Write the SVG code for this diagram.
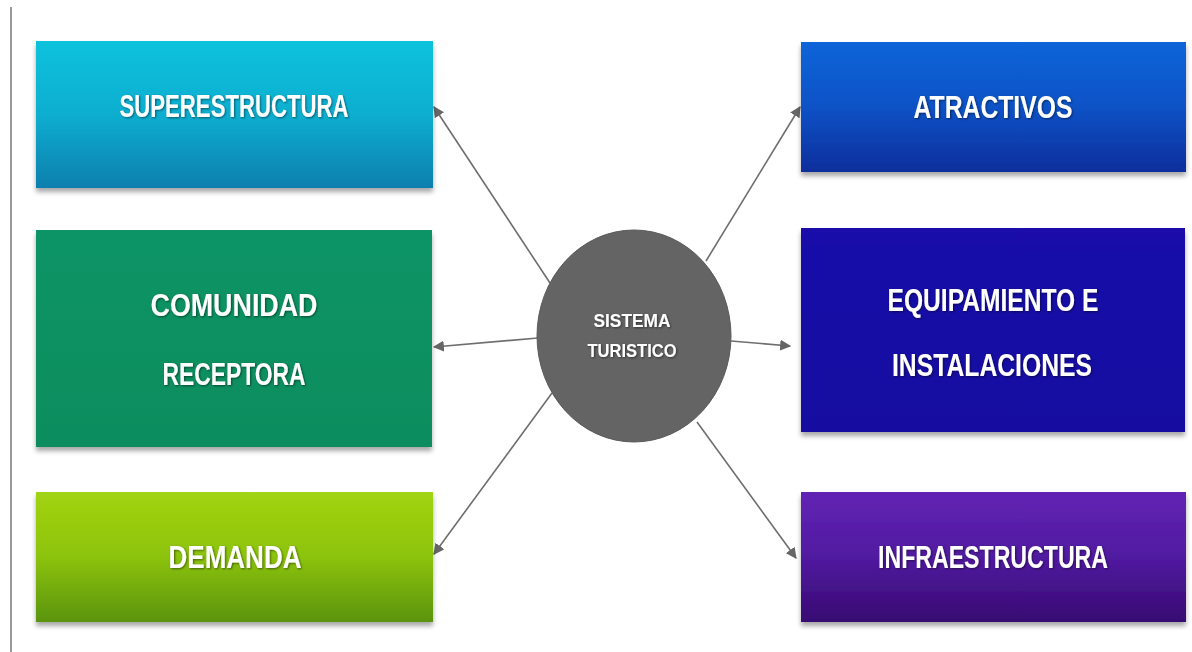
<svg xmlns="http://www.w3.org/2000/svg" width="1192" height="652" viewBox="0 0 1192 652">
<defs>
<style>
.lbl{font-family:"Liberation Sans",Arial,sans-serif;font-weight:bold;font-size:31px;fill:#ffffff;text-anchor:middle}
.clbl{font-family:"Liberation Sans",Arial,sans-serif;font-weight:bold;font-size:19px;fill:#ffffff;text-anchor:middle}
.con{stroke:#6e6e6e;stroke-width:1.6;fill:none;marker-end:url(#ah)}
.box{filter:url(#sh)}
</style>
<marker id="ah" viewBox="0 0 10 10" refX="9" refY="5" markerWidth="11" markerHeight="11" markerUnits="userSpaceOnUse" orient="auto">
<path d="M0,0 L10,5 L0,10 z" fill="#666666"/>
</marker>
<filter id="sh" x="-5%" y="-5%" width="110%" height="120%">
<feGaussianBlur in="SourceAlpha" stdDeviation="2.5"/>
<feOffset dx="0" dy="4" result="b"/>
<feComponentTransfer><feFuncA type="linear" slope="0.35"/></feComponentTransfer>
<feMerge><feMergeNode/><feMergeNode in="SourceGraphic"/></feMerge>
</filter>
<filter id="ts" x="-5%" y="-20%" width="110%" height="140%">
<feGaussianBlur in="SourceAlpha" stdDeviation="0.8"/>
<feOffset dx="1" dy="1"/>
<feComponentTransfer><feFuncA type="linear" slope="0.5"/></feComponentTransfer>
<feMerge><feMergeNode/><feMergeNode in="SourceGraphic"/></feMerge>
</filter>
<linearGradient id="g1" x1="0" y1="0" x2="0" y2="1"><stop offset="0" stop-color="#0cc2dc"/><stop offset="0.5" stop-color="#0aaed0"/><stop offset="1" stop-color="#0a7fae"/></linearGradient>
<linearGradient id="g2" x1="0" y1="0" x2="0" y2="1"><stop offset="0" stop-color="#099466"/><stop offset="1" stop-color="#078d5e"/></linearGradient>
<linearGradient id="g3" x1="0" y1="0" x2="0" y2="1"><stop offset="0" stop-color="#a2d412"/><stop offset="0.5" stop-color="#8cc30e"/><stop offset="1" stop-color="#5a9410"/></linearGradient>
<linearGradient id="g4" x1="0" y1="0" x2="0" y2="1"><stop offset="0" stop-color="#1065d8"/><stop offset="0.5" stop-color="#0c52c6"/><stop offset="1" stop-color="#0a2e9c"/></linearGradient>
<linearGradient id="g5" x1="0" y1="0" x2="0" y2="1"><stop offset="0" stop-color="#1a0caa"/><stop offset="1" stop-color="#120aa0"/></linearGradient>
<linearGradient id="g6" x1="0" y1="0" x2="0" y2="1"><stop offset="0" stop-color="#6224b4"/><stop offset="0.5" stop-color="#501aa0"/><stop offset="1" stop-color="#380a72"/></linearGradient>
</defs>
<rect width="1192" height="652" fill="#ffffff"/>
<line x1="11" y1="7" x2="11" y2="652" stroke="#555555" stroke-width="1.2"/>

<g id="connectors">
<line class="con" x1="550" y1="283" x2="434" y2="107"/>
<line class="con" x1="706" y1="261" x2="800" y2="107"/>
<line class="con" x1="538" y1="338" x2="434" y2="347"/>
<line class="con" x1="731" y1="341" x2="790" y2="346"/>
<line class="con" x1="552" y1="393" x2="434" y2="554"/>
<line class="con" x1="697" y1="422" x2="796" y2="558"/>
</g>

<g id="superestructura">
<rect class="box" x="36" y="41" width="397" height="147" fill="url(#g1)"/>
<text class="lbl" x="234" y="117" textLength="229" lengthAdjust="spacingAndGlyphs" filter="url(#ts)">SUPERESTRUCTURA</text>
</g>
<g id="comunidad">
<rect class="box" x="36" y="230" width="396" height="217" fill="url(#g2)"/>
<text class="lbl" x="234" y="316" textLength="167" lengthAdjust="spacingAndGlyphs" filter="url(#ts)">COMUNIDAD</text>
<text class="lbl" x="234" y="385" textLength="143" lengthAdjust="spacingAndGlyphs" filter="url(#ts)">RECEPTORA</text>
</g>
<g id="demanda">
<rect class="box" x="36" y="492" width="397" height="130" fill="url(#g3)"/>
<text class="lbl" x="235" y="568" textLength="133" lengthAdjust="spacingAndGlyphs" filter="url(#ts)">DEMANDA</text>
</g>
<g id="atractivos">
<rect class="box" x="801" y="42" width="385" height="130" fill="url(#g4)"/>
<text class="lbl" x="993" y="118" textLength="159" lengthAdjust="spacingAndGlyphs" filter="url(#ts)">ATRACTIVOS</text>
</g>
<g id="equipamiento">
<rect class="box" x="801" y="228" width="384" height="204" fill="url(#g5)"/>
<text class="lbl" x="993" y="311" textLength="211" lengthAdjust="spacingAndGlyphs" filter="url(#ts)">EQUIPAMIENTO E</text>
<text class="lbl" x="992" y="376" textLength="200" lengthAdjust="spacingAndGlyphs" filter="url(#ts)">INSTALACIONES</text>
</g>
<g id="infraestructura">
<rect class="box" x="801" y="492" width="385" height="130" fill="url(#g6)"/>
<text class="lbl" x="993" y="568" textLength="230" lengthAdjust="spacingAndGlyphs" filter="url(#ts)">INFRAESTRUCTURA</text>
</g>
<g id="sistema">
<ellipse cx="634" cy="336" rx="97" ry="106" fill="#646464" stroke="#5a5a5a" stroke-width="1"/>
<text class="clbl" x="632" y="327" textLength="77" lengthAdjust="spacingAndGlyphs" filter="url(#ts)">SISTEMA</text>
<text class="clbl" x="632" y="357" textLength="89" lengthAdjust="spacingAndGlyphs" filter="url(#ts)">TURISTICO</text>
</g>
</svg>
